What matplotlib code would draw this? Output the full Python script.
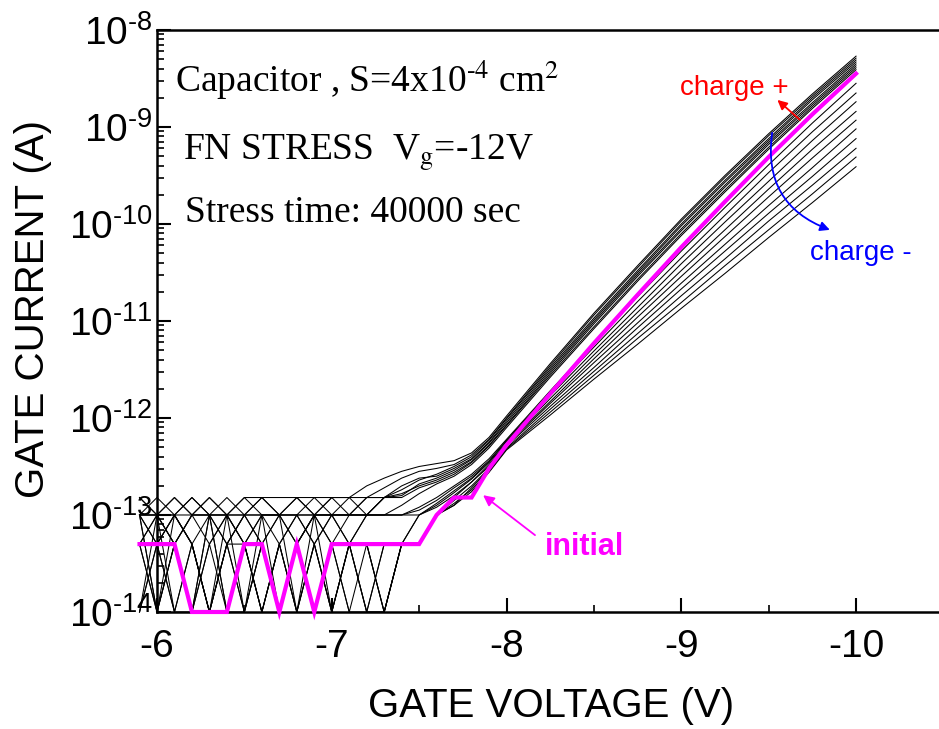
import matplotlib
matplotlib.use("Agg")
import matplotlib.pyplot as plt
import numpy as np
from matplotlib.ticker import FixedLocator, FixedFormatter, LogLocator, NullFormatter

# ---------------- data (log10 of gate current in A) ----------------
gate_voltage = [-5.9, -6.0, -6.1, -6.2, -6.3, -6.4, -6.5, -6.6, -6.7, -6.8,
                -6.9, -7.0, -7.1, -7.2, -7.3, -7.4, -7.5, -7.6, -7.7, -7.8,
                -7.9, -8.0, -8.25, -8.5, -8.75, -9.0, -9.25, -9.5, -9.75, -10.0]

initial_log_i = [-13.3, -13.3, -13.3, -14, -14, -14, -13.3, -13.3, -14, -13.3,
                 -14, -13.3, -13.3, -13.3, -13.3, -13.3, -13.3, -13.0, -12.82, -12.82,
                 -12.52, -12.28, -11.75, -11.23, -10.73, -10.24, -9.77, -9.31, -8.87, -8.45]

# curves shifted up after stress (charge +)
up_0 = [-12.82, -13, -12.82, -13, -12.82, -13, -12.82, -12.82, -12.82, -12.82, -12.82, -12.82, -12.82, -12.70, -12.62,
        -12.55, -12.50, -12.47, -12.44, -12.36, -12.20, -11.98, -11.44, -10.92, -10.43, -9.95, -9.50, -9.07, -8.66, -8.27]
up_1 = [-13, -12.82, -13, -12.82, -13, -12.82, -13, -12.82, -13, -12.82, -13, -12.82, -12.82, -12.82, -12.72,
        -12.62, -12.55, -12.52, -12.48, -12.38, -12.22, -12.00, -11.46, -10.94, -10.45, -9.97, -9.52, -9.09, -8.68, -8.29]
up_2 = [-13, -13, -13, -13, -13, -13, -13, -13, -13, -13, -13, -13, -13, -13, -12.82,
        -12.74, -12.64, -12.58, -12.50, -12.40, -12.23, -12.01, -11.48, -10.97, -10.48, -10.00, -9.55, -9.12, -8.70, -8.31]
up_3 = [-12.82, -13, -13, -12.82, -13, -13, -12.82, -13, -13, -12.82, -13, -12.82, -13, -12.82, -12.82,
        -12.70, -12.62, -12.60, -12.52, -12.42, -12.25, -12.03, -11.50, -10.99, -10.50, -10.02, -9.57, -9.14, -8.72, -8.33]
up_4 = [-13, -13, -12.82, -13, -12.82, -13, -13, -12.82, -13, -13, -12.82, -13, -12.82, -13, -12.82,
        -12.80, -12.68, -12.62, -12.54, -12.43, -12.26, -12.05, -11.52, -11.01, -10.52, -10.05, -9.60, -9.16, -8.75, -8.35]
up_5 = [-13, -13.3, -13, -13.3, -13, -13.3, -13, -13, -13.3, -13, -13, -13, -13, -12.82, -12.82,
        -12.78, -12.70, -12.64, -12.56, -12.45, -12.28, -12.07, -11.54, -11.03, -10.54, -10.07, -9.62, -9.18, -8.77, -8.37]
up_6 = [-13.3, -13, -13.3, -13, -13, -13.3, -13, -13.3, -13, -13, -13.3, -13, -13, -13, -12.82,
        -12.82, -12.72, -12.66, -12.58, -12.46, -12.29, -12.08, -11.56, -11.06, -10.57, -10.10, -9.65, -9.21, -8.79, -8.39]
up_7 = [-13, -13, -13.3, -13, -13, -13, -13.3, -13, -13, -13.3, -13, -13, -13.3, -13, -13,
        -12.90, -12.78, -12.68, -12.60, -12.48, -12.31, -12.10, -11.58, -11.08, -10.59, -10.12, -9.67, -9.23, -8.81, -8.41]

# curves shifted down after stress (charge -)
down_0 = [-13.3, -13, -13.3, -13, -13.3, -13, -13.3, -13, -13, -13.3, -13, -13, -13, -13, -13,
          -13.0, -12.92, -12.82, -12.70, -12.58, -12.42, -12.22, -11.72, -11.23, -10.75, -10.28, -9.83, -9.39, -8.96, -8.55]
down_1 = [-13, -13.3, -13, -13.3, -14, -13.3, -13, -13.3, -14, -13.3, -13, -13.3, -13, -13, -13,
          -13.0, -12.95, -12.85, -12.72, -12.60, -12.44, -12.23, -11.74, -11.27, -10.80, -10.35, -9.91, -9.47, -9.05, -8.65]
down_2 = [-14, -13.3, -13, -13.3, -14, -13.3, -13.3, -14, -13.3, -13, -13.3, -14, -13.3, -13, -13,
          -13.0, -13.0, -12.88, -12.75, -12.62, -12.45, -12.24, -11.77, -11.31, -10.86, -10.41, -9.98, -9.56, -9.14, -8.74]
down_3 = [-13, -14, -13.3, -14, -13.3, -13, -14, -13.3, -14, -13.3, -13, -13.3, -13.3, -14, -13.3,
          -13.3, -13.0, -12.90, -12.77, -12.63, -12.46, -12.26, -11.80, -11.35, -10.91, -10.48, -10.06, -9.64, -9.23, -8.84]
down_4 = [-13.3, -14, -13, -13.3, -14, -13, -13.3, -14, -13.3, -14, -13.3, -13, -13.3, -13.3, -14,
          -13.3, -13.3, -13.0, -12.82, -12.66, -12.48, -12.27, -11.83, -11.39, -10.96, -10.54, -10.13, -9.72, -9.32, -8.93]
down_5 = [-14, -13, -14, -13.3, -14, -13.3, -14, -13.3, -13, -14, -13.3, -14, -13.3, -14, -13.3,
          -13.3, -13.0, -12.92, -12.80, -12.66, -12.50, -12.28, -11.85, -11.43, -11.02, -10.61, -10.21, -9.81, -9.42, -9.02]
down_6 = [-13, -14, -13.3, -14, -13, -14, -13.3, -14, -13.3, -14, -13, -14, -13.3, -13.3, -14,
          -13.3, -13.3, -13.0, -12.85, -12.70, -12.52, -12.29, -11.88, -11.48, -11.07, -10.67, -10.28, -9.89, -9.51, -9.12]
down_7 = [-13.3, -13.3, -14, -13.3, -14, -13.3, -14, -13, -14, -13.3, -14, -13.3, -14, -13.3, -14,
          -13.3, -13.3, -13.0, -12.90, -12.72, -12.53, -12.31, -11.91, -11.52, -11.13, -10.74, -10.36, -9.97, -9.60, -9.22]
down_8 = [-14, -13.3, -14, -14, -13.3, -14, -13.3, -14, -13.3, -14, -13.3, -14, -13.3, -14, -14,
          -13.3, -13.3, -13.0, -12.88, -12.74, -12.55, -12.32, -11.94, -11.56, -11.18, -10.81, -10.43, -10.06, -9.69, -9.31]
down_9 = [-13.3, -14, -13.3, -14, -13, -14, -14, -13.3, -14, -13.3, -14, -13.3, -14, -14, -14,
          -13.3, -13.3, -13.0, -12.90, -12.76, -12.56, -12.33, -11.97, -11.60, -11.24, -10.87, -10.51, -10.14, -9.78, -9.41]

stressed_curves = [up_0, up_1, up_2, up_3, up_4, up_5, up_6, up_7,
                   down_0, down_1, down_2, down_3, down_4, down_5, down_6, down_7, down_8, down_9]

x_ticks = [-6, -7, -8, -9, -10]
x_tick_labels = ["-6", "-7", "-8", "-9", "-10"]
x_minor_ticks = [-6.5, -7.5, -8.5, -9.5, -10.5]
y_ticks = [1e-14, 1e-13, 1e-12, 1e-11, 1e-10, 1e-9, 1e-8]
y_tick_labels = ["$10^{\u201014}$", "$10^{\u201013}$", "$10^{\u201012}$", "$10^{\u201011}$",
                 "$10^{\u201010}$", "$10^{\u20109}$", "$10^{\u20108}$"]

# ---------------- style ----------------
SANS = "Liberation Sans"
plt.rcParams["axes.unicode_minus"] = False
plt.rcParams["mathtext.fontset"] = "custom"
plt.rcParams["mathtext.rm"] = SANS
plt.rcParams["mathtext.it"] = SANS
plt.rcParams["mathtext.default"] = "regular"
plt.rcParams["font.family"] = [SANS, "DejaVu Sans"]

fig = plt.figure(figsize=(9.39, 7.29), dpi=100)
ax = fig.add_axes([0.1672, 0.1605, 0.8375, 0.7984])

v = np.array(gate_voltage)
for curve in stressed_curves:
    ax.plot(v, 10.0 ** np.array(curve), color="black", lw=0.75, clip_on=False, zorder=2)
ax.plot(v, 10.0 ** np.array(initial_log_i), color="#ff00ff", lw=3.0, clip_on=False, zorder=3,
        solid_joinstyle="miter")

ax.set_yscale("log")
ax.set_xlim(-6, -10.5)
ax.set_ylim(1e-14, 1e-8)

ax.xaxis.set_major_locator(FixedLocator(x_ticks))
ax.xaxis.set_major_formatter(FixedFormatter(x_tick_labels))
ax.xaxis.set_minor_locator(FixedLocator(x_minor_ticks))
ax.set_yticks(y_ticks)
ax.set_yticklabels(y_tick_labels)
ax.yaxis.set_minor_locator(LogLocator(base=10, subs=np.arange(2, 10), numticks=20))
ax.yaxis.set_minor_formatter(NullFormatter())

ax.tick_params(which="major", direction="in", length=10, width=1.5, labelsize=28)
ax.tick_params(which="minor", direction="in", length=5, width=1.2)
ax.tick_params(axis="x", pad=12)
ax.tick_params(axis="y", pad=3)
ax.tick_params(top=False, right=False)
for s in ["left", "bottom", "top"]:
    ax.spines[s].set_linewidth(1.8)
ax.spines["right"].set_visible(False)

fig.text(551 / 939, 1 - 706 / 729, "GATE VOLTAGE (V)", ha="center", va="center", fontsize=29, family=SANS)
fig.text(33 / 939, 1 - 309 / 729, "GATE CURRENT (A)", ha="center", va="center", rotation=90,
         fontsize=29, family=SANS)

serif = "Liberation Serif"
fig.text(175 / 939, 1 - 92 / 729, "Capacitor , S=4x10$^{\\mathrm{\u20104}}$ cm$^{\\mathrm{2}}$", family=serif,
         fontsize=27, va="baseline", math_fontfamily="stix")
fig.text(183 / 939, 1 - 160 / 729, r"FN STRESS  V$_{\mathrm{g}}$=-12V", family=serif,
         fontsize=27, va="baseline", math_fontfamily="stix")
fig.text(185 / 939, 1 - 222 / 729, "Stress time: 40000 sec", family=serif,
         fontsize=27, va="baseline")

fig.text(680 / 939, 1 - 95 / 729, "charge +", color="#ff0000", fontsize=20, family=SANS, va="baseline")
fig.text(810 / 939, 1 - 260 / 729, "charge -", color="#0000ff", fontsize=20, family=SANS, va="baseline")
fig.text(545 / 939, 1 - 555 / 729, "initial", color="#ff00ff", fontsize=22, family=SANS,
         fontweight="bold", va="baseline")

ax.annotate("", xy=(-9.55, 1.9e-9), xytext=(-9.68, 1.18e-9),
            arrowprops=dict(arrowstyle="-|>", color="#ff0000", lw=1.3, mutation_scale=14,
                            shrinkA=0, shrinkB=0))
ax.annotate("", xy=(-9.85, 8.7e-11), xytext=(-9.52, 8.7e-10),
            arrowprops=dict(arrowstyle="-|>", color="#0000ff", lw=1.3, mutation_scale=14,
                            shrinkA=0, shrinkB=0, connectionstyle="arc3,rad=0.4"))
ax.annotate("", xy=(-7.866, 1.6e-13), xytext=(-8.163, 6.2e-14),
            arrowprops=dict(arrowstyle="-|>", color="#ff00ff", lw=1.3, mutation_scale=16,
                            shrinkA=0, shrinkB=0))

fig.savefig("out.png", dpi=100)
